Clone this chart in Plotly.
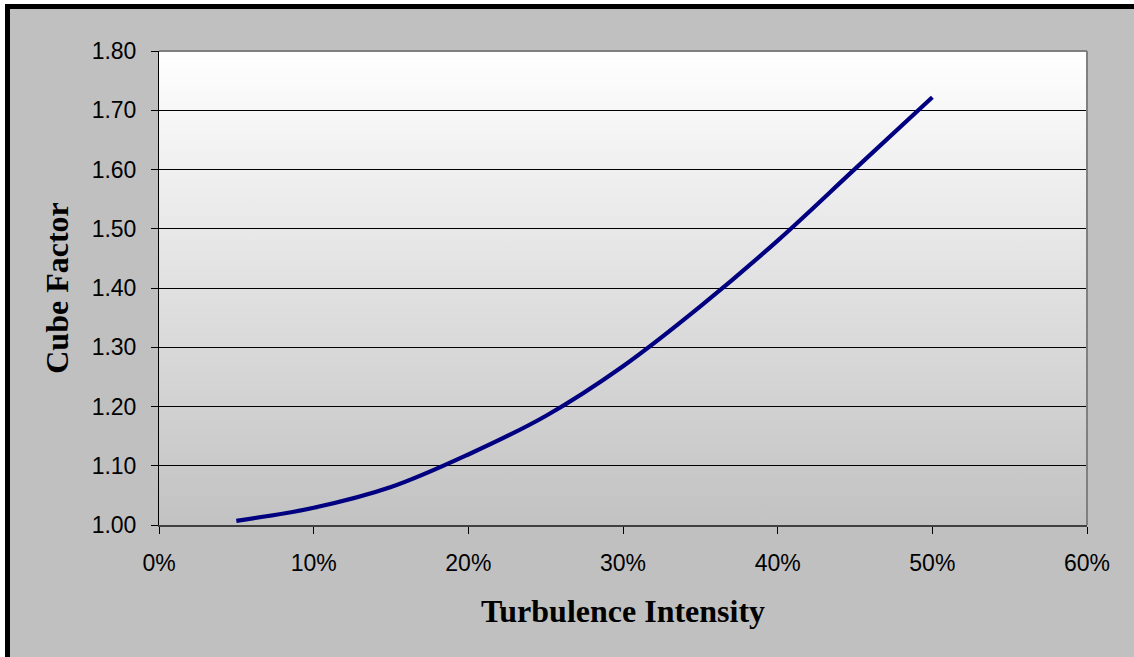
import base64
import plotly.graph_objects as go

# Data
turbulence_intensity = [0.05, 0.10, 0.15, 0.20, 0.25, 0.30, 0.35, 0.40, 0.45, 0.50]
cube_factor = [1.007, 1.029, 1.064, 1.119, 1.184, 1.268, 1.369, 1.480, 1.601, 1.722]

x_range = [0.0, 0.6]
y_range = [1.0, 1.8]

W, H = 1134, 657
L, R, T, B = 159, 47, 51, 132
pw, ph = W - L - R, H - T - B

def px_x(p):
    return (p - L) / pw

def px_y(p):
    return (H - B - p) / ph

fig = go.Figure()
fig.add_trace(go.Scatter(
    x=turbulence_intensity, y=cube_factor, mode="lines",
    line=dict(color="#000080", width=4.2, shape="spline", smoothing=1.0),
    hoverinfo="x+y", showlegend=False,
))

# Vertical gradient background for plot area (white -> gray)
svg = ('<svg xmlns="http://www.w3.org/2000/svg" width="10" height="100" preserveAspectRatio="none">'
       '<defs><linearGradient id="g" x1="0" y1="0" x2="0" y2="1">'
       '<stop offset="0" stop-color="#ffffff"/><stop offset="1" stop-color="#c2c2c2"/>'
       '</linearGradient></defs><rect width="10" height="100" fill="url(#g)"/></svg>')
src = "data:image/svg+xml;base64," + base64.b64encode(svg.encode()).decode()
fig.add_layout_image(dict(source=src, xref="x", yref="y", x=x_range[0], y=y_range[1],
                          sizex=x_range[1] - x_range[0], sizey=y_range[1] - y_range[0],
                          sizing="stretch", layer="below", xanchor="left", yanchor="top"))

shapes = [
    # white margin strips outside the chart frame
    dict(type="rect", xref="paper", yref="paper", x0=px_x(-10), x1=px_x(W + 10),
         y0=px_y(-10), y1=px_y(4), fillcolor="white", line_width=0, layer="above"),
    dict(type="rect", xref="paper", yref="paper", x0=px_x(-10), x1=px_x(5),
         y0=px_y(H + 10), y1=px_y(-10), fillcolor="white", line_width=0, layer="above"),
    # thick black frame (top and left visible)
    dict(type="line", xref="paper", yref="paper", x0=px_x(5), x1=px_x(W + 10),
         y0=px_y(6.5), y1=px_y(6.5), line=dict(color="black", width=5), layer="above"),
    dict(type="line", xref="paper", yref="paper", x0=px_x(7.5), x1=px_x(7.5),
         y0=px_y(4), y1=px_y(H + 10), line=dict(color="black", width=5), layer="above"),
    # gray plot-area border top and right
    dict(type="line", xref="paper", yref="paper", x0=0, x1=1, y0=1, y1=1,
         line=dict(color="#808080", width=2), layer="above"),
    dict(type="line", xref="paper", yref="paper", x0=1, x1=1, y0=0, y1=1,
         line=dict(color="#808080", width=2), layer="above"),
]

tick_font = dict(family="Liberation Sans, Arial, sans-serif", size=23, color="black")
title_font = dict(family="Liberation Serif, Times New Roman, serif", size=32, color="black")

fig.update_layout(
    width=W, height=H,
    margin=dict(l=L, r=R, t=T, b=B, autoexpand=False),
    paper_bgcolor="#c0c0c0", plot_bgcolor="white",
    shapes=shapes,
    xaxis=dict(range=x_range, dtick=0.1, tick0=0, tickformat=".0%", showgrid=False,
               zeroline=False, ticks="outside", ticklen=7, tickwidth=1, tickcolor="black",
               showline=True, linecolor="#404040", linewidth=2, tickfont=tick_font,
               ticklabelstandoff=9,
               title=dict(text="<b>Turbulence Intensity</b>", font=title_font, standoff=25)),
    yaxis=dict(range=y_range, dtick=0.1, tick0=1.0, tickformat=".2f", showgrid=True,
               gridcolor="black", gridwidth=1, zeroline=False, ticks="outside",
               ticklen=7, tickwidth=1, tickcolor="black", showline=True,
               linecolor="black", linewidth=1, tickfont=tick_font, ticklabelstandoff=10,
               title=dict(text="<b>Cube Factor</b>", font=title_font, standoff=13)),
)

fig.write_html("out.html", config={"displayModeBar": False},
               post_script="document.body.style.margin='0';document.body.style.overflow='hidden';")
